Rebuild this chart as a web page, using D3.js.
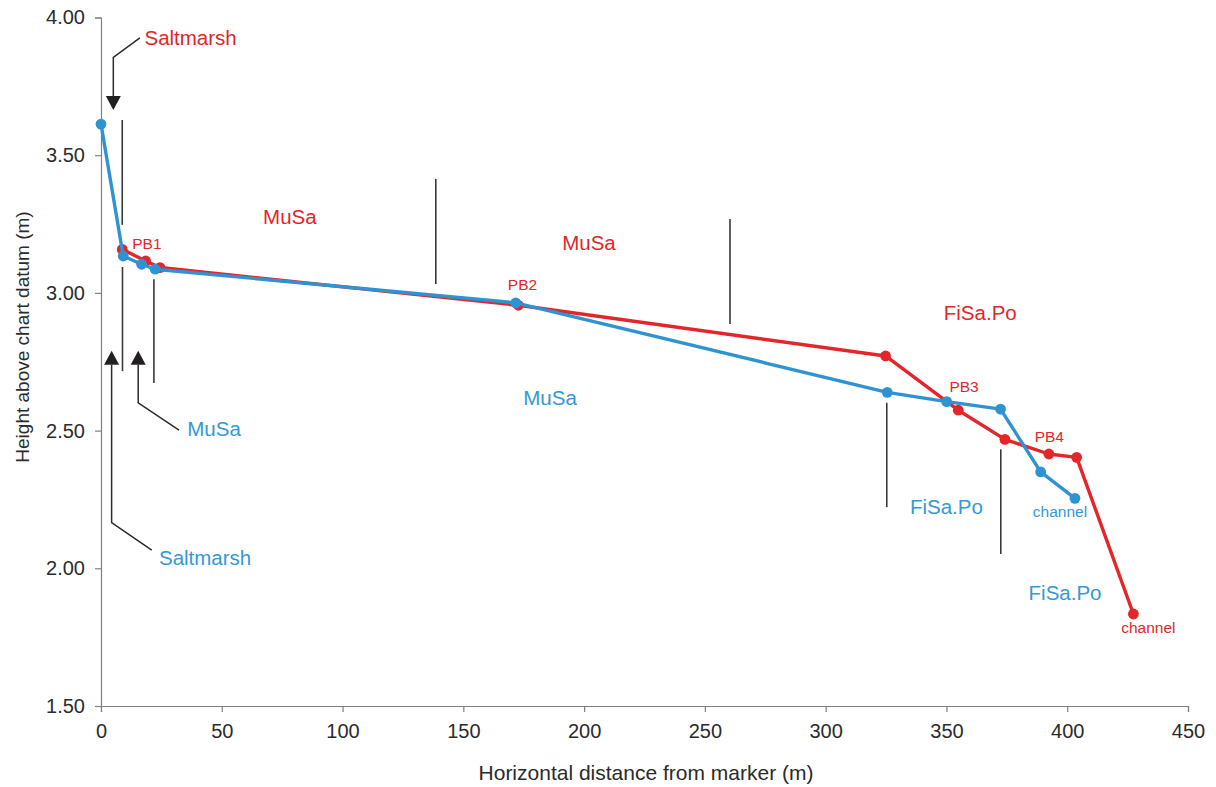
<!DOCTYPE html>
<html>
<head>
<meta charset="utf-8">
<script src="https://cdn.jsdelivr.net/npm/d3@7"></script>
<style>
  html, body { margin: 0; padding: 0; background: #fff; }
  svg text { font-family: "Liberation Sans", Arial, sans-serif; }
</style>
</head>
<body>
<div id="chart"></div>
<script>
// profile survey 1 (red) and survey 2 (blue)
var redDist   = [8.8, 18.5, 24.4, 172.8, 324.8, 354.9, 374.2, 392.4, 403.9, 427.4];
var redHeight = [3.158, 3.116, 3.092, 2.955, 2.771, 2.574, 2.468, 2.415, 2.403, 1.834];
var blueDist   = [0, 9.2, 16.8, 22.4, 171.7, 325.5, 350.1, 372.4, 389.0, 403.2];
var blueHeight = [3.613, 3.134, 3.104, 3.086, 2.964, 2.639, 2.605, 2.578, 2.350, 2.254];

var xTicks = [0, 50, 100, 150, 200, 250, 300, 350, 400, 450];
var yTicks = [1.5, 2.0, 2.5, 3.0, 3.5, 4.0];

// boundaries between facies zones : [x, yTop, yBottom]
var zoneLines = [
	[8.8, 3.628, 3.247], [8.9, 3.094, 2.716], [21.9, 3.050, 2.673],
	[138.6, 3.414, 3.032], [260.4, 3.268, 2.887],
	[325.3, 2.601, 2.222], [372.5, 2.432, 2.052]
];

// labels : [text, x, y, colour key, big?]
var labels = [
	['Saltmarsh', 37.1, 3.926, 'red', 1],
	['MuSa', 78.2, 3.276, 'red', 1],
	['MuSa', 202.0, 3.181, 'red', 1],
	['FiSa.Po', 364.0, 2.928, 'red', 1],
	['PB1', 19.0, 3.180, 'red', 0],
	['PB2', 174.5, 3.032, 'red', 0],
	['PB3', 357.3, 2.659, 'red', 0],
	['PB4', 392.6, 2.480, 'red', 0],
	['channel', 433.6, 1.786, 'red', 0],
	['MuSa', 185.9, 2.618, 'blue', 1],
	['FiSa.Po', 350.0, 2.224, 'blue', 1],
	['FiSa.Po', 399.1, 1.910, 'blue', 1],
	['channel', 397.0, 2.206, 'blue', 0],
	['MuSa', 46.8, 2.506, 'blue', 1],
	['Saltmarsh', 43.1, 2.037, 'blue', 1]
];

// leader arrows : list of points, the last one is the arrow tip
var arrows = [
	[[16.1, 3.926], [5.1, 3.855], [5.1, 3.664]],
	[[21.0, 2.066], [4.4, 2.166], [4.4, 2.790]],
	[[32.3, 2.502], [15.4, 2.601], [15.4, 2.790]]
];

var colors = { red: '#e2262a', blue: '#2f93d2' };
var textColors = { red: '#e2262a', blue: '#3399d6' };

var W = 1216, H = 787;
var x = d3.scaleLinear().domain([0, 450]).range([101, 1188]);
var y = d3.scaleLinear().domain([1.5, 4]).range([706, 17.5]);

var svg = d3.select('#chart').append('svg')
	.attr('width', W)
	.attr('height', H);

//axes
var gx = svg.append('g')
	.attr('transform', 'translate(0,' + y(1.5) + ')')
	.call(d3.axisBottom(x).tickValues(xTicks).tickSize(6).tickPadding(12).tickFormat(d3.format('d')));
var gy = svg.append('g')
	.attr('transform', 'translate(' + x(0) + ',0)')
	.call(d3.axisLeft(y).tickValues(yTicks).tickSize(6).tickPadding(10).tickFormat(d3.format('.2f')));

[gx, gy].forEach(function(g){
	g.select('.domain').attr('stroke', '#808080').attr('stroke-width', 1.2);
	g.selectAll('.tick line').attr('stroke', '#808080').attr('stroke-width', 1.2);
	g.selectAll('.tick text').attr('fill', '#2b2b2b').attr('font-size', '20px')
	 .attr('font-family', '"Liberation Sans", Arial, sans-serif');
});

svg.append('text')
	.attr('x', 646)
	.attr('y', 780)
	.attr('text-anchor', 'middle')
	.attr('fill', '#2b2b2b')
	.attr('font-size', '21px')
	.text('Horizontal distance from marker (m)');

svg.append('text')
	.attr('transform', 'translate(29,337) rotate(-90)')
	.attr('text-anchor', 'middle')
	.attr('fill', '#2b2b2b')
	.attr('font-size', '19px')
	.text('Height above chart datum (m)');

//zone boundaries
svg.append('g').selectAll('line').data(zoneLines).enter().append('line')
	.attr('x1', function(d){ return x(d[0]); })
	.attr('x2', function(d){ return x(d[0]); })
	.attr('y1', function(d){ return y(d[1]); })
	.attr('y2', function(d){ return y(d[2]); })
	.attr('stroke', '#3a3a3a')
	.attr('stroke-width', 1.6);

//arrows
var ga = svg.append('g');
arrows.forEach(function(a){
	var pts = a.map(function(p){ return [x(p[0]), y(p[1])]; });
	var tip = pts[pts.length - 1];
	var prev = pts[pts.length - 2];
	var dir = tip[1] > prev[1] ? 1 : -1;	//down or up
	var head = 14, half = 7.5;
	var linePts = pts.slice(0, -1).concat([[tip[0], tip[1] - dir * head]]);
	ga.append('path')
		.attr('d', d3.line()(linePts))
		.attr('fill', 'none')
		.attr('stroke', '#2b2b2b')
		.attr('stroke-width', 1.5);
	ga.append('path')
		.attr('d', 'M' + tip[0] + ',' + tip[1] +
			'L' + (tip[0] - half) + ',' + (tip[1] - dir * head) +
			'L' + (tip[0] + half) + ',' + (tip[1] - dir * head) + 'Z')
		.attr('fill', '#231f20');
});

//series
function drawSeries(dist, height, color){
	var pts = dist.map(function(d, i){ return [d, height[i]]; });
	var g = svg.append('g');
	g.append('path')
		.datum(pts)
		.attr('d', d3.line().x(function(d){ return x(d[0]); }).y(function(d){ return y(d[1]); }))
		.attr('fill', 'none')
		.attr('stroke', color)
		.attr('stroke-width', 3.4)
		.attr('stroke-linejoin', 'round');
	g.selectAll('circle').data(pts).enter().append('circle')
		.attr('cx', function(d){ return x(d[0]); })
		.attr('cy', function(d){ return y(d[1]); })
		.attr('r', 5.4)
		.attr('fill', color);
}
drawSeries(redDist, redHeight, colors.red);
drawSeries(blueDist, blueHeight, colors.blue);

//labels
svg.append('g').selectAll('text').data(labels).enter().append('text')
	.attr('x', function(d){ return x(d[1]); })
	.attr('y', function(d){ return y(d[2]); })
	.attr('dy', '0.36em')
	.attr('text-anchor', 'middle')
	.attr('fill', function(d){ return textColors[d[3]]; })
	.attr('font-size', function(d){ return d[4] ? '20.5px' : '15.5px'; })
	.text(function(d){ return d[0]; });
</script>
</body>
</html>
